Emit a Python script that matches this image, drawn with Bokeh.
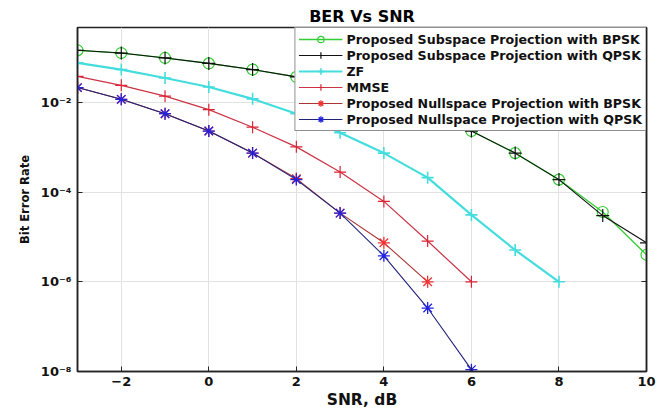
from bokeh.plotting import figure
from bokeh.models import (Range1d, FixedTicker, CustomJSTickFormatter, Legend, LegendItem,
                          LogAxis, Title)
from bokeh.embed import file_html
from bokeh.resources import INLINE

# ---- data ----
snr_sub = [-3, -2, -1, 0, 1, 2, 3, 4, 5, 6, 7, 8, 9, 10]
sub_bpsk = [0.145, 0.126, 0.098, 0.074, 0.054, 0.037, 0.024, 0.0138, 0.0063, 0.0023,
            7.4e-4, 1.9e-4, 3.6e-5, 4.0e-6]
sub_qpsk = [0.145, 0.126, 0.098, 0.074, 0.054, 0.037, 0.024, 0.0138, 0.0063, 0.0023,
            7.4e-4, 1.9e-4, 3.0e-5, 7.4e-6]
snr_zf = [-3, -2, -1, 0, 1, 2, 3, 4, 5, 6, 7, 8]
zf = [0.076, 0.054, 0.035, 0.022, 0.012, 0.0056, 0.0021, 7.4e-4, 2.1e-4, 3.1e-5, 5.1e-6, 1.0e-6]
snr_mmse = [-3, -2, -1, 0, 1, 2, 3, 4, 5, 6]
mmse = [0.038, 0.024, 0.0138, 0.0069, 0.0028, 1.02e-3, 2.8e-4, 6.2e-5, 8.1e-6, 1.0e-6]
snr_nbpsk = [-3, -2, -1, 0, 1, 2, 3, 4, 5]
null_bpsk = [0.0214, 0.0117, 0.0056, 0.0023, 7.4e-4, 2.0e-4, 3.4e-5, 7.4e-6, 1.0e-6]
snr_nqpsk = [-3, -2, -1, 0, 1, 2, 3, 4, 5, 6]
null_qpsk = [0.0214, 0.0117, 0.0056, 0.0023, 7.4e-4, 1.9e-4, 3.4e-5, 3.8e-6, 2.6e-7, 1.1e-8]

x_ticks = [-2, 0, 2, 4, 6, 8, 10]
y_ticks = [1e-8, 1e-6, 1e-4, 1e-2]

FONT = "DejaVu Sans"

p = figure(width=671, height=413, y_axis_type="log",
           x_range=Range1d(-3, 10), y_range=Range1d(1e-8, 10 ** -0.33),
           output_backend="svg", toolbar_location=None,
           min_border_left=77, min_border_right=25, min_border_top=27, min_border_bottom=42)

p.title = Title(text="BER Vs SNR", align="center", text_font=FONT, text_font_size="16px",
                text_font_style="bold", text_color="#000000", offset=0, standoff=3)

p.outline_line_color = "#222222"
p.outline_line_width = 1.5
p.background_fill_color = "white"
p.border_fill_color = "white"

exp_fmt = CustomJSTickFormatter(code="""
const sup = {'-':'\\u207b','0':'\\u2070','1':'\\u00b9','2':'\\u00b2','3':'\\u00b3','4':'\\u2074',
             '5':'\\u2075','6':'\\u2076','7':'\\u2077','8':'\\u2078','9':'\\u2079'};
const e = String(Math.round(Math.log10(tick)));
return '10' + e.split('').map(c => sup[c]).join('');
""")

for ax in p.xaxis:
    ax.ticker = FixedTicker(ticks=x_ticks)
    ax.axis_label = "SNR, dB"
    ax.axis_label_text_font_size = "15.5px"
    ax.major_label_standoff = 5
    ax.axis_label_standoff = 2
for ax in p.yaxis:
    ax.ticker = FixedTicker(ticks=y_ticks)
    ax.formatter = exp_fmt
    ax.axis_label = "Bit Error Rate"
    ax.axis_label_text_font_size = "11.5px"
    ax.major_label_standoff = 6
    ax.axis_label_standoff = 6
for ax in list(p.xaxis) + list(p.yaxis):
    ax.axis_line_color = "#222222"
    ax.axis_line_width = 1.5
    ax.major_tick_in = 5
    ax.major_tick_out = 0
    ax.major_tick_line_color = "#222222"
    ax.minor_tick_line_color = None
    ax.major_label_text_font = FONT
    ax.major_label_text_font_size = "13px"
    ax.major_label_text_font_style = "bold"
    ax.major_label_text_color = "#111111"
    ax.axis_label_text_font = FONT
    ax.axis_label_text_font_style = "bold"
    ax.axis_label_text_color = "#111111"

right_ax = LogAxis(ticker=FixedTicker(ticks=y_ticks), major_label_text_font_size="1px",
                   major_label_text_color=None,
                   major_tick_in=5, major_tick_out=0, minor_tick_line_color=None,
                   axis_line_color="#222222", axis_line_width=1.5,
                   major_tick_line_color="#222222")
p.add_layout(right_ax, "right")

p.xgrid.ticker = FixedTicker(ticks=x_ticks)
p.ygrid.ticker = FixedTicker(ticks=y_ticks)
p.grid.grid_line_color = "#e2e2e2"
p.grid.grid_line_width = 1

# subspace BPSK
l1 = p.line(snr_sub, sub_bpsk, line_color="#33cc33", line_width=1.3)
m1 = p.scatter(snr_sub, sub_bpsk, marker="circle", size=11, fill_alpha=0,
               line_color="#33cc33", line_width=1.2)
# subspace QPSK
l2 = p.line(snr_sub, sub_qpsk, line_color="#111111", line_width=1.1)
m2 = p.scatter(snr_sub, sub_qpsk, marker="cross", size=13, line_color="#111111", line_width=1.2)
# ZF
l3 = p.line(snr_zf, zf, line_color="#44dddd", line_width=2.2)
m3 = p.scatter(snr_zf, zf, marker="cross", size=12, line_color="#44dddd", line_width=1.6)
# MMSE
l4 = p.line(snr_mmse, mmse, line_color="#cc3344", line_width=1.2)
m4 = p.scatter(snr_mmse, mmse, marker="cross", size=12, line_color="#dd2233", line_width=1.2)
# Nullspace BPSK
l5 = p.line(snr_nbpsk, null_bpsk, line_color="#aa3333", line_width=1.1)
m5 = p.scatter(snr_nbpsk, null_bpsk, marker="asterisk", size=12, line_color="#ee3333", line_width=1.3)
# Nullspace QPSK
l6 = p.line(snr_nqpsk, null_qpsk, line_color="#22227a", line_width=1.1)
m6 = p.scatter(snr_nqpsk, null_qpsk, marker="asterisk", size=12, line_color="#2222dd", line_width=1.3)

labels = ["Proposed Subspace Projection with BPSK",
          "Proposed Subspace Projection with QPSK",
          "ZF",
          "MMSE",
          "Proposed Nullspace Projection with BPSK",
          "Proposed Nullspace Projection with QPSK"]
renderers = [(l1, m1), (l2, m2), (l3, m3), (l4, m4), (l5, m5), (l6, m6)]
items = [LegendItem(label=lab, renderers=[l, m]) for lab, (l, m) in zip(labels, renderers)]

legend = Legend(items=items, location="top_right", margin=0, padding=3, spacing=0,
                label_text_font=FONT, label_text_font_size="12.6px", label_text_font_style="bold",
                label_text_color="#111111", glyph_width=44, glyph_height=16, label_height=16,
                label_standoff=4, border_line_color="#222222", border_line_width=1.2,
                background_fill_alpha=1, background_fill_color="white")
p.add_layout(legend, "center")

open("out.html", "w").write(file_html(p, INLINE))
